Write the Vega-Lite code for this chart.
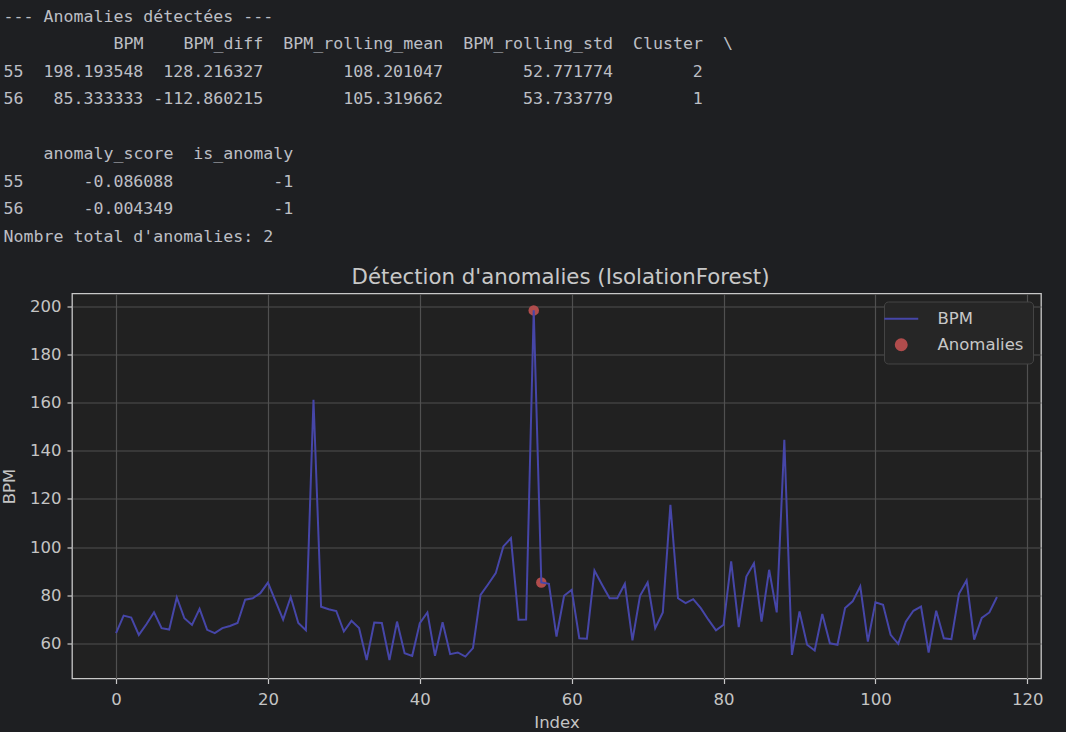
{
  "$schema": "https://vega.github.io/schema/vega-lite/v6.json",
  "background": "#1e1f22",
  "padding": 0,
  "spacing": 16.5,
  "align": "none",
  "bounds": "full",
  "resolve": {"legend": {"color": "independent"}, "scale": {"color": "independent"}},
  "config": {
    "view": {"stroke": null},
    "axis": {
      "labelFont": "DejaVu Sans", "labelFontSize": 16.5, "labelColor": "#c4c4c4",
      "titleFont": "DejaVu Sans", "titleFontSize": 16.5, "titleColor": "#c4c4c4", "titleFontWeight": "normal",
      "tickColor": "#c8c8c8", "tickSize": 5, "tickWidth": 1.2, "domain": false,
      "gridColor": "#505050", "gridWidth": 1.2
    },
    "axisX": {"labelPadding": 8, "titlePadding": 6},
    "axisY": {"labelPadding": 6, "titlePadding": 12},
    "legend": {
      "orient": "top-right", "offset": 8, "padding": 9,
      "fillColor": "#262626", "strokeColor": "#444444", "cornerRadius": 4,
      "labelFont": "DejaVu Sans", "labelFontSize": 16.5, "labelColor": "#c8c8c8",
      "symbolSize": 1444, "labelOffset": 28, "rowPadding": 7, "symbolStrokeWidth": 2
    },
    "title": {"font": "DejaVu Sans", "fontSize": 21.3, "fontWeight": "normal", "color": "#c8c8c8"}
  },
  "datasets": {
    "console": [
      {"line": 1, "col": 0, "text": "---\u00a0Anomalies\u00a0détectées\u00a0---"},
      {"line": 2, "col": 11, "text": "BPM\u00a0\u00a0\u00a0\u00a0BPM_diff\u00a0\u00a0BPM_rolling_mean\u00a0\u00a0BPM_rolling_std\u00a0\u00a0Cluster\u00a0\u00a0\\"},
      {"line": 3, "col": 0, "text": "55\u00a0\u00a0198.193548\u00a0\u00a0128.216327\u00a0\u00a0\u00a0\u00a0\u00a0\u00a0\u00a0\u00a0108.201047\u00a0\u00a0\u00a0\u00a0\u00a0\u00a0\u00a0\u00a052.771774\u00a0\u00a0\u00a0\u00a0\u00a0\u00a0\u00a0\u00a02"},
      {"line": 4, "col": 0, "text": "56\u00a0\u00a0\u00a085.333333\u00a0-112.860215\u00a0\u00a0\u00a0\u00a0\u00a0\u00a0\u00a0\u00a0105.319662\u00a0\u00a0\u00a0\u00a0\u00a0\u00a0\u00a0\u00a053.733779\u00a0\u00a0\u00a0\u00a0\u00a0\u00a0\u00a0\u00a01"},
      {"line": 6, "col": 4, "text": "anomaly_score\u00a0\u00a0is_anomaly"},
      {"line": 7, "col": 0, "text": "55\u00a0\u00a0\u00a0\u00a0\u00a0\u00a0-0.086088\u00a0\u00a0\u00a0\u00a0\u00a0\u00a0\u00a0\u00a0\u00a0\u00a0-1"},
      {"line": 8, "col": 0, "text": "56\u00a0\u00a0\u00a0\u00a0\u00a0\u00a0-0.004349\u00a0\u00a0\u00a0\u00a0\u00a0\u00a0\u00a0\u00a0\u00a0\u00a0-1"},
      {"line": 9, "col": 0, "text": "Nombre\u00a0total\u00a0d'anomalies:\u00a02"}
    ],
    "bpm": [
      {"Index": 0, "BPM": 64.3, "is_anomaly": 1}, {"Index": 1, "BPM": 71.6, "is_anomaly": 1},
      {"Index": 2, "BPM": 70.8, "is_anomaly": 1}, {"Index": 3, "BPM": 63.6, "is_anomaly": 1},
      {"Index": 4, "BPM": 68.0, "is_anomaly": 1}, {"Index": 5, "BPM": 73.0, "is_anomaly": 1},
      {"Index": 6, "BPM": 66.4, "is_anomaly": 1}, {"Index": 7, "BPM": 65.8, "is_anomaly": 1},
      {"Index": 8, "BPM": 79.1, "is_anomaly": 1}, {"Index": 9, "BPM": 70.5, "is_anomaly": 1},
      {"Index": 10, "BPM": 67.7, "is_anomaly": 1}, {"Index": 11, "BPM": 74.4, "is_anomaly": 1},
      {"Index": 12, "BPM": 65.7, "is_anomaly": 1}, {"Index": 13, "BPM": 64.3, "is_anomaly": 1},
      {"Index": 14, "BPM": 66.4, "is_anomaly": 1}, {"Index": 15, "BPM": 67.3, "is_anomaly": 1},
      {"Index": 16, "BPM": 68.5, "is_anomaly": 1}, {"Index": 17, "BPM": 78.2, "is_anomaly": 1},
      {"Index": 18, "BPM": 78.8, "is_anomaly": 1}, {"Index": 19, "BPM": 80.9, "is_anomaly": 1},
      {"Index": 20, "BPM": 85.3, "is_anomaly": 1}, {"Index": 21, "BPM": 77.6, "is_anomaly": 1},
      {"Index": 22, "BPM": 69.9, "is_anomaly": 1}, {"Index": 23, "BPM": 79.3, "is_anomaly": 1},
      {"Index": 24, "BPM": 68.5, "is_anomaly": 1}, {"Index": 25, "BPM": 65.5, "is_anomaly": 1},
      {"Index": 26, "BPM": 161.1, "is_anomaly": 1}, {"Index": 27, "BPM": 75.3, "is_anomaly": 1},
      {"Index": 28, "BPM": 74.2, "is_anomaly": 1}, {"Index": 29, "BPM": 73.5, "is_anomaly": 1},
      {"Index": 30, "BPM": 65.0, "is_anomaly": 1}, {"Index": 31, "BPM": 69.4, "is_anomaly": 1},
      {"Index": 32, "BPM": 66.4, "is_anomaly": 1}, {"Index": 33, "BPM": 53.2, "is_anomaly": 1},
      {"Index": 34, "BPM": 68.7, "is_anomaly": 1}, {"Index": 35, "BPM": 68.5, "is_anomaly": 1},
      {"Index": 36, "BPM": 53.2, "is_anomaly": 1}, {"Index": 37, "BPM": 69.1, "is_anomaly": 1},
      {"Index": 38, "BPM": 56.0, "is_anomaly": 1}, {"Index": 39, "BPM": 54.9, "is_anomaly": 1},
      {"Index": 40, "BPM": 68.5, "is_anomaly": 1}, {"Index": 41, "BPM": 72.9, "is_anomaly": 1},
      {"Index": 42, "BPM": 54.9, "is_anomaly": 1}, {"Index": 43, "BPM": 68.8, "is_anomaly": 1},
      {"Index": 44, "BPM": 55.6, "is_anomaly": 1}, {"Index": 45, "BPM": 56.3, "is_anomaly": 1},
      {"Index": 46, "BPM": 54.6, "is_anomaly": 1}, {"Index": 47, "BPM": 58.1, "is_anomaly": 1},
      {"Index": 48, "BPM": 80.2, "is_anomaly": 1}, {"Index": 49, "BPM": 84.6, "is_anomaly": 1},
      {"Index": 50, "BPM": 89.2, "is_anomaly": 1}, {"Index": 51, "BPM": 100.3, "is_anomaly": 1},
      {"Index": 52, "BPM": 103.7, "is_anomaly": 1}, {"Index": 53, "BPM": 69.9, "is_anomaly": 1},
      {"Index": 54, "BPM": 69.977, "is_anomaly": 1}, {"Index": 55, "BPM": 198.193548, "is_anomaly": -1},
      {"Index": 56, "BPM": 85.333333, "is_anomaly": -1}, {"Index": 57, "BPM": 84.8, "is_anomaly": 1},
      {"Index": 58, "BPM": 62.9, "is_anomaly": 1}, {"Index": 59, "BPM": 79.8, "is_anomaly": 1},
      {"Index": 60, "BPM": 82.3, "is_anomaly": 1}, {"Index": 61, "BPM": 62.2, "is_anomaly": 1},
      {"Index": 62, "BPM": 62.0, "is_anomaly": 1}, {"Index": 63, "BPM": 90.3, "is_anomaly": 1},
      {"Index": 64, "BPM": 84.4, "is_anomaly": 1}, {"Index": 65, "BPM": 78.8, "is_anomaly": 1},
      {"Index": 66, "BPM": 78.8, "is_anomaly": 1}, {"Index": 67, "BPM": 84.8, "is_anomaly": 1},
      {"Index": 68, "BPM": 61.3, "is_anomaly": 1}, {"Index": 69, "BPM": 79.8, "is_anomaly": 1},
      {"Index": 70, "BPM": 85.3, "is_anomaly": 1}, {"Index": 71, "BPM": 66.4, "is_anomaly": 1},
      {"Index": 72, "BPM": 72.9, "is_anomaly": 1}, {"Index": 73, "BPM": 117.5, "is_anomaly": 1},
      {"Index": 74, "BPM": 78.8, "is_anomaly": 1}, {"Index": 75, "BPM": 76.8, "is_anomaly": 1},
      {"Index": 76, "BPM": 78.4, "is_anomaly": 1}, {"Index": 77, "BPM": 74.7, "is_anomaly": 1},
      {"Index": 78, "BPM": 69.9, "is_anomaly": 1}, {"Index": 79, "BPM": 65.5, "is_anomaly": 1},
      {"Index": 80, "BPM": 67.8, "is_anomaly": 1}, {"Index": 81, "BPM": 94.1, "is_anomaly": 1},
      {"Index": 82, "BPM": 66.8, "is_anomaly": 1}, {"Index": 83, "BPM": 87.8, "is_anomaly": 1},
      {"Index": 84, "BPM": 93.3, "is_anomaly": 1}, {"Index": 85, "BPM": 69.1, "is_anomaly": 1},
      {"Index": 86, "BPM": 90.6, "is_anomaly": 1}, {"Index": 87, "BPM": 72.9, "is_anomaly": 1},
      {"Index": 88, "BPM": 144.5, "is_anomaly": 1}, {"Index": 89, "BPM": 55.3, "is_anomaly": 1},
      {"Index": 90, "BPM": 73.3, "is_anomaly": 1}, {"Index": 91, "BPM": 59.5, "is_anomaly": 1},
      {"Index": 92, "BPM": 57.1, "is_anomaly": 1}, {"Index": 93, "BPM": 72.3, "is_anomaly": 1},
      {"Index": 94, "BPM": 60.1, "is_anomaly": 1}, {"Index": 95, "BPM": 59.5, "is_anomaly": 1},
      {"Index": 96, "BPM": 74.7, "is_anomaly": 1}, {"Index": 97, "BPM": 77.5, "is_anomaly": 1},
      {"Index": 98, "BPM": 83.7, "is_anomaly": 1}, {"Index": 99, "BPM": 60.8, "is_anomaly": 1},
      {"Index": 100, "BPM": 77.1, "is_anomaly": 1}, {"Index": 101, "BPM": 76.1, "is_anomaly": 1},
      {"Index": 102, "BPM": 63.6, "is_anomaly": 1}, {"Index": 103, "BPM": 59.9, "is_anomaly": 1},
      {"Index": 104, "BPM": 69.1, "is_anomaly": 1}, {"Index": 105, "BPM": 73.6, "is_anomaly": 1},
      {"Index": 106, "BPM": 75.3, "is_anomaly": 1}, {"Index": 107, "BPM": 56.3, "is_anomaly": 1},
      {"Index": 108, "BPM": 73.6, "is_anomaly": 1}, {"Index": 109, "BPM": 62.2, "is_anomaly": 1},
      {"Index": 110, "BPM": 61.8, "is_anomaly": 1}, {"Index": 111, "BPM": 80.6, "is_anomaly": 1},
      {"Index": 112, "BPM": 86.2, "is_anomaly": 1}, {"Index": 113, "BPM": 61.6, "is_anomaly": 1},
      {"Index": 114, "BPM": 70.6, "is_anomaly": 1}, {"Index": 115, "BPM": 72.9, "is_anomaly": 1},
      {"Index": 116, "BPM": 79.3, "is_anomaly": 1}
    ]
  },
  "vconcat": [
    {
      "width": 994,
      "height": 250,
      "data": {"name": "console"},
      "mark": {"type": "text", "align": "left", "baseline": "middle", "font": "DejaVu Sans Mono", "fontSize": 16.6, "color": "#bcbec4"},
      "encoding": {
        "x": {"field": "col", "type": "quantitative", "scale": {"domain": [6.85, 106.25], "nice": false, "zero": false}, "axis": null},
        "y": {"field": "line", "type": "quantitative", "scale": {"domain": [0.382, 9.473], "nice": false, "zero": false, "reverse": true}, "axis": null},
        "text": {"field": "text", "type": "nominal"}
      }
    },
    {
      "width": 969,
      "height": 385,
      "title": {"text": "Détection d'anomalies (IsolationForest)", "baseline": "alphabetic", "offset": -12, "dx": 4, "anchor": "middle"},
      "view": {"fill": "#212121", "stroke": "#c8c8c8", "strokeWidth": 1.3},
      "data": {"name": "bpm"},
      "encoding": {
        "x": {"field": "Index", "type": "quantitative", "scale": {"domain": [-5.8, 121.8], "nice": false, "zero": false}, "axis": {"values": [0, 20, 40, 60, 80, 100, 120], "title": "Index"}},
        "y": {"field": "BPM", "type": "quantitative", "scale": {"domain": [45.5, 205.2], "nice": false, "zero": false}, "axis": {"values": [60, 80, 100, 120, 140, 160, 180, 200], "title": "BPM"}}
      },
      "layer": [
        {
          "transform": [{"filter": "datum.is_anomaly == -1"}],
          "mark": {"type": "point", "filled": true, "size": 110, "opacity": 1},
          "encoding": {
            "color": {
              "datum": "Anomalies", "type": "nominal",
              "scale": {"domain": ["BPM", "Anomalies"], "range": ["#4646a8", "#b04c4c"]},
              "legend": {
                "title": null,
                "encode": {
                  "symbols": {
                    "update": {
                      "shape": {"signal": "datum.value === 'BPM' ? 'stroke' : 'circle'"},
                      "size": {"signal": "datum.value === 'BPM' ? 1156 : 120"},
                      "fill": {"signal": "datum.value === 'BPM' ? 'transparent' : '#b04c4c'"},
                      "stroke": {"signal": "datum.value === 'BPM' ? '#4646a8' : 'transparent'"},
                      "strokeWidth": {"value": 2},
                      "opacity": {"value": 1}
                    }
                  }
                }
              }
            }
          }
        },
        {
          "mark": {"type": "line", "strokeWidth": 2},
          "encoding": {
            "color": {
              "datum": "BPM", "type": "nominal",
              "scale": {"domain": ["BPM", "Anomalies"], "range": ["#4646a8", "#b04c4c"]},
              "legend": {
                "title": null,
                "encode": {
                  "symbols": {
                    "update": {
                      "shape": {"signal": "datum.value === 'BPM' ? 'stroke' : 'circle'"},
                      "size": {"signal": "datum.value === 'BPM' ? 1156 : 120"},
                      "fill": {"signal": "datum.value === 'BPM' ? 'transparent' : '#b04c4c'"},
                      "stroke": {"signal": "datum.value === 'BPM' ? '#4646a8' : 'transparent'"},
                      "strokeWidth": {"value": 2},
                      "opacity": {"value": 1}
                    }
                  }
                }
              }
            }
          }
        }
      ]
    }
  ]
}
